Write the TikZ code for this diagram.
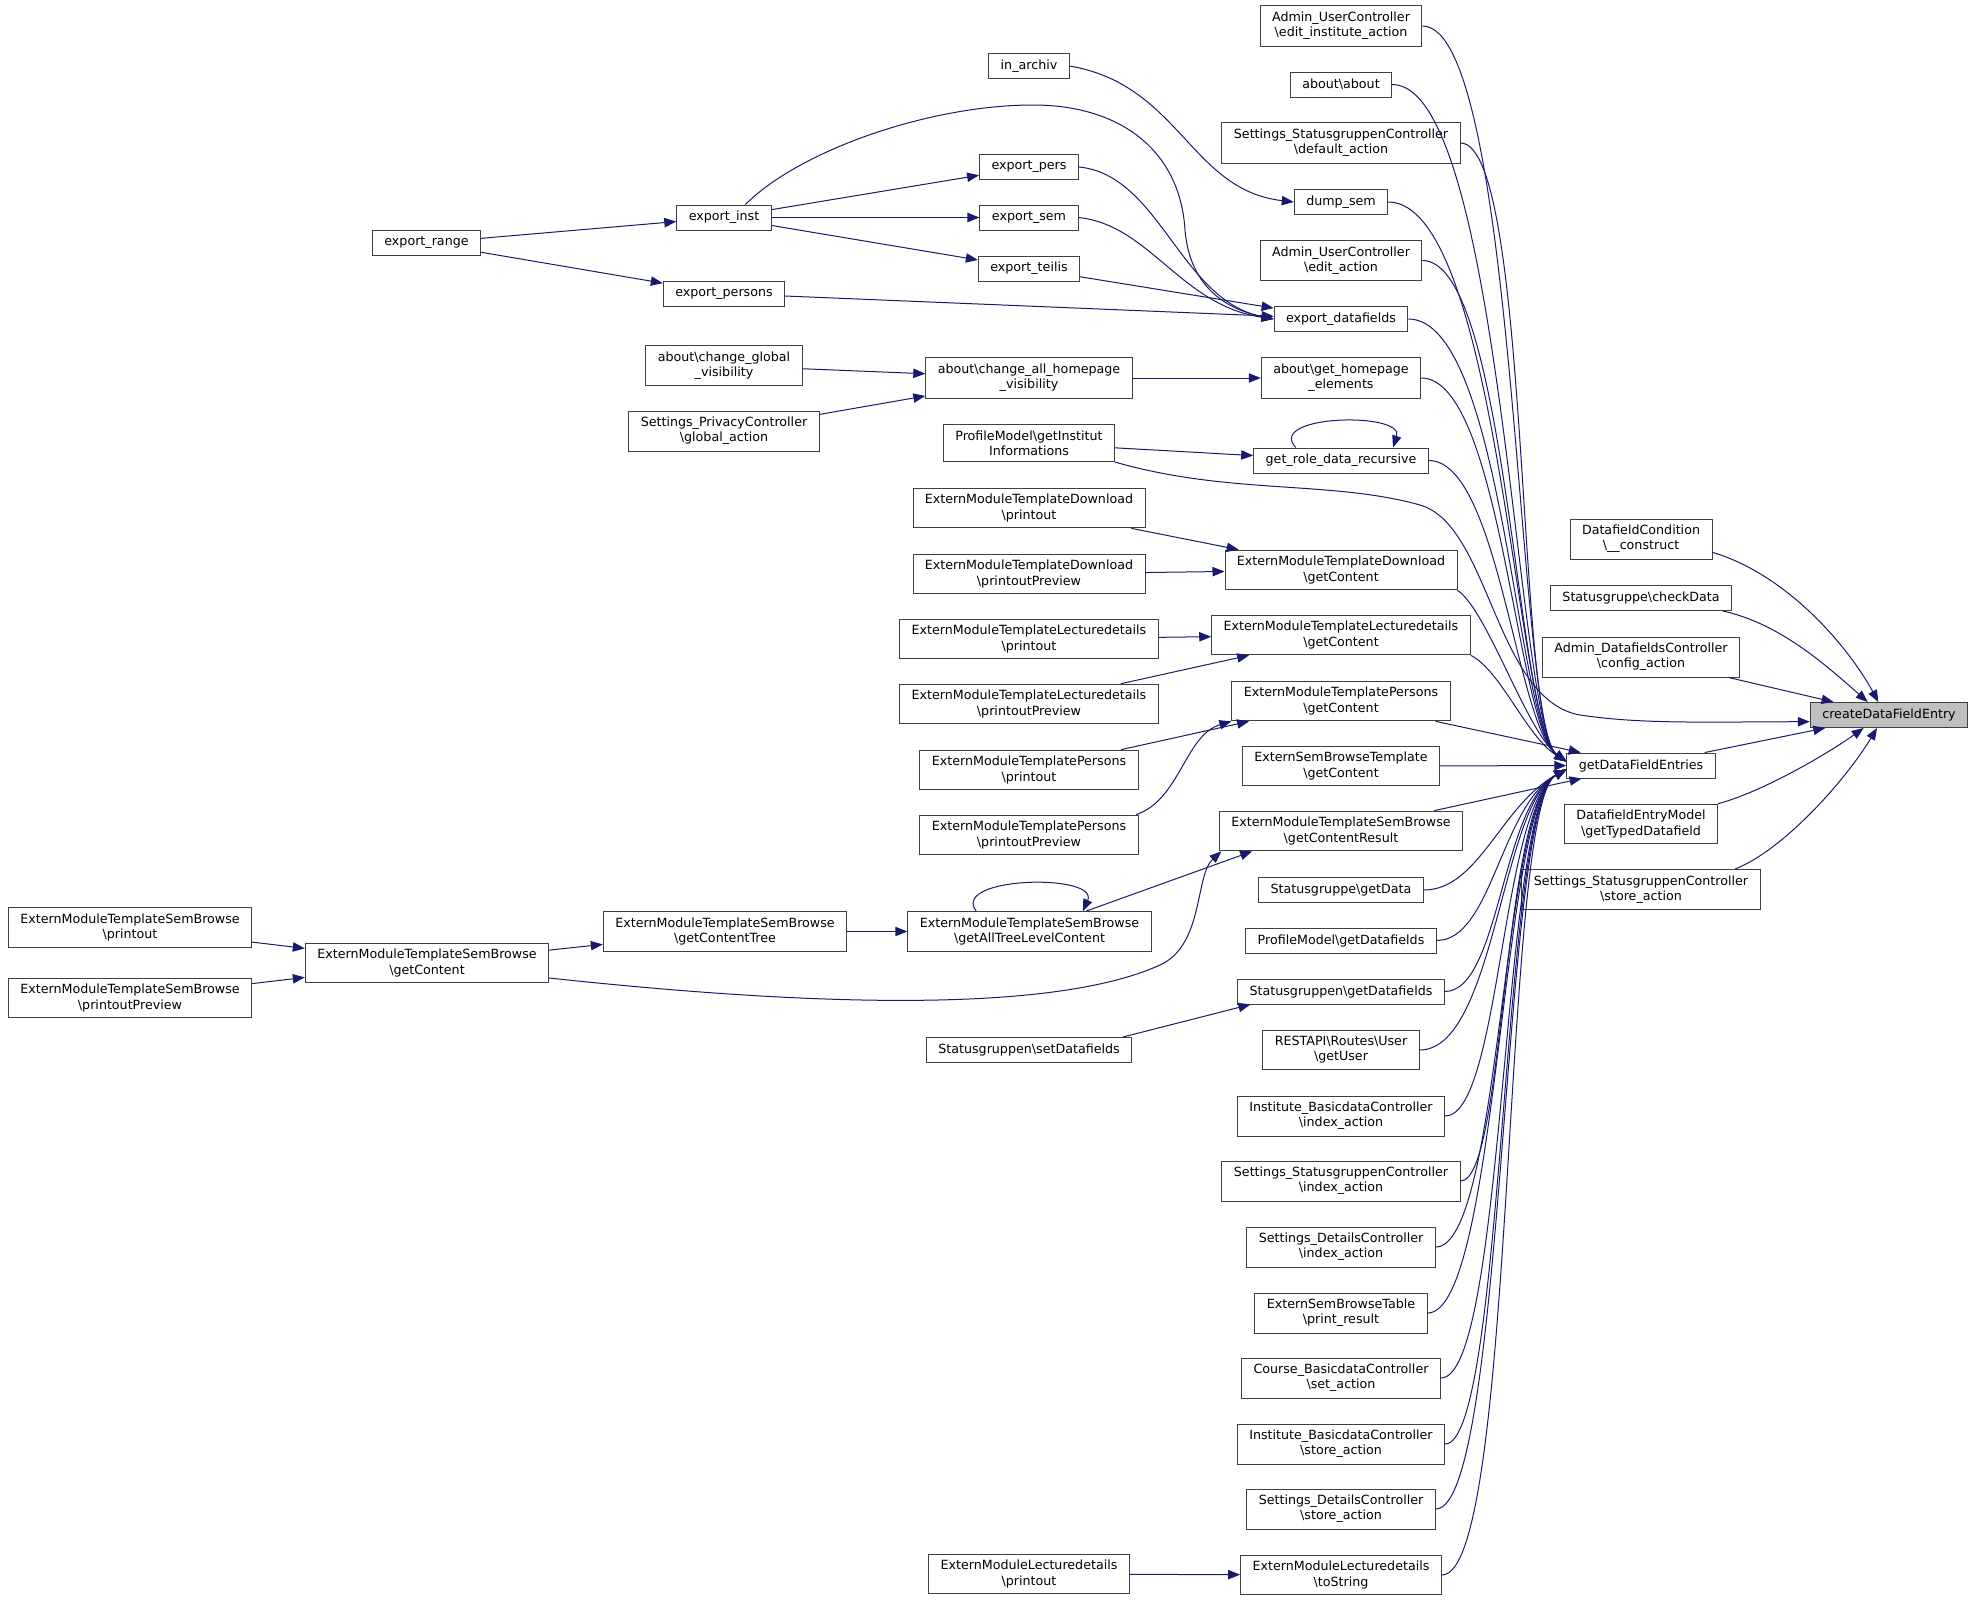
\documentclass[tikz,border=0pt]{standalone}
\usepackage{fontspec}
\setmainfont{DejaVu Sans}
\usetikzlibrary{arrows.meta}
\definecolor{edgeblue}{HTML}{191970}
\definecolor{boxline}{HTML}{404040}
\definecolor{rootfill}{HTML}{BFBFBF}
\newcommand{\bsl}{\textbackslash}
\begin{document}
\begin{tikzpicture}[x=0.75pt, y=-0.75pt,
    fn/.style={draw=boxline, line width=0.7pt, fill=white, inner xsep=9pt, inner ysep=4.6pt,
      minimum height=18.75pt, align=center, font=\fontsize{9.5}{11.4}\selectfont},
    root/.style={fn, fill=rootfill},
    call/.style={draw=edgeblue, line width=0.75pt, -{Triangle[length=9pt,width=7pt]}}]
    \useasboundingbox (0,0) rectangle (1973,1599);

    \node[root] (cde) at (1889,715) {createDataFieldEntry};
    \node[fn] (gde) at (1641,765.5) {getDataFieldEntries};
    \node[fn] (dfc) at (1641,539) {DatafieldCondition\\\bsl\_\_construct};
    \node[fn] (sgcd) at (1641,598) {Statusgruppe\bsl checkData};
    \node[fn] (adcc) at (1641,657) {Admin\_DatafieldsController\\\bsl config\_action};
    \node[fn] (dftd) at (1641,824) {DatafieldEntryModel\\\bsl getTypedDatafield};
    \node[fn] (ssstore) at (1641,889.5) {Settings\_StatusgruppenController\\\bsl store\_action};

    \node[fn] (auedinst) at (1341,26) {Admin\_UserController\\\bsl edit\_institute\_action};
    \node[fn] (about) at (1341,84.5) {about\bsl about};
    \node[fn] (ssdef) at (1341,143) {Settings\_StatusgruppenController\\\bsl default\_action};
    \node[fn] (dumpsem) at (1341,202) {dump\_sem};
    \node[fn] (aued) at (1341,260.5) {Admin\_UserController\\\bsl edit\_action};
    \node[fn] (expdf) at (1341,319) {export\_datafields};
    \node[fn] (ghe) at (1341,378) {about\bsl get\_homepage\\\_elements};
    \node[fn] (grdr) at (1341,460.5) {get\_role\_data\_recursive};
    \node[fn] (emtdgc) at (1341,570) {ExternModuleTemplateDownload\\\bsl getContent};
    \node[fn] (emtlgc) at (1341,635) {ExternModuleTemplateLecturedetails\\\bsl getContent};
    \node[fn] (emtpgc) at (1341,701) {ExternModuleTemplatePersons\\\bsl getContent};
    \node[fn] (esbtgc) at (1341,766) {ExternSemBrowseTemplate\\\bsl getContent};
    \node[fn] (emtsgcr) at (1341,831) {ExternModuleTemplateSemBrowse\\\bsl getContentResult};
    \node[fn] (sgget) at (1341,890) {Statusgruppe\bsl getData};
    \node[fn] (pmgdf) at (1341,940.5) {ProfileModel\bsl getDatafields};
    \node[fn] (sggdf) at (1341,991.5) {Statusgruppen\bsl getDatafields};
    \node[fn] (restuser) at (1341,1050) {RESTAPI\bsl Routes\bsl User\\\bsl getUser};
    \node[fn] (ibdidx) at (1341,1116) {Institute\_BasicdataController\\\bsl index\_action};
    \node[fn] (ssgidx) at (1341,1181) {Settings\_StatusgruppenController\\\bsl index\_action};
    \node[fn] (sdcidx) at (1341,1247) {Settings\_DetailsController\\\bsl index\_action};
    \node[fn] (esbtpr) at (1341,1313) {ExternSemBrowseTable\\\bsl print\_result};
    \node[fn] (cbdset) at (1341,1378) {Course\_BasicdataController\\\bsl set\_action};
    \node[fn] (ibdstore) at (1341,1444) {Institute\_BasicdataController\\\bsl store\_action};
    \node[fn] (sdcstore) at (1341,1509) {Settings\_DetailsController\\\bsl store\_action};
    \node[fn] (emldstr) at (1341,1575) {ExternModuleLecturedetails\\\bsl toString};

    \node[fn] (inarchiv) at (1029,66) {in\_archiv};
    \node[fn] (exppers) at (1029,167) {export\_pers};
    \node[fn] (expsem) at (1029,217.5) {export\_sem};
    \node[fn] (expteilis) at (1029,268.5) {export\_teilis};
    \node[fn] (cahv) at (1029,378) {about\bsl change\_all\_homepage\\\_visibility};
    \node[fn] (pmgii) at (1029,443) {ProfileModel\bsl getInstitut\\Informations};
    \node[fn] (emtdpr) at (1029,508) {ExternModuleTemplateDownload\\\bsl printout};
    \node[fn] (emtdpp) at (1029,574) {ExternModuleTemplateDownload\\\bsl printoutPreview};
    \node[fn] (emtlpr) at (1029,639) {ExternModuleTemplateLecturedetails\\\bsl printout};
    \node[fn] (emtlpp) at (1029,704) {ExternModuleTemplateLecturedetails\\\bsl printoutPreview};
    \node[fn] (emtppr) at (1029,770) {ExternModuleTemplatePersons\\\bsl printout};
    \node[fn] (emtppp) at (1029,835) {ExternModuleTemplatePersons\\\bsl printoutPreview};
    \node[fn] (emtsgat) at (1029.5,931.5) {ExternModuleTemplateSemBrowse\\\bsl getAllTreeLevelContent};
    \node[fn] (sgsdf) at (1029,1050) {Statusgruppen\bsl setDatafields};
    \node[fn] (emldpr) at (1029,1574) {ExternModuleLecturedetails\\\bsl printout};

    \node[fn] (expinst) at (724,217.5) {export\_inst};
    \node[fn] (exppersons) at (724,293.5) {export\_persons};
    \node[fn] (acgv) at (724,365.5) {about\bsl change\_global\\\_visibility};
    \node[fn] (spcga) at (724,431) {Settings\_PrivacyController\\\bsl global\_action};
    \node[fn] (emtsgct) at (725,931.5) {ExternModuleTemplateSemBrowse\\\bsl getContentTree};

    \node[fn] (exprange) at (426.5,243) {export\_range};
    \node[fn] (emtsgc) at (427,963) {ExternModuleTemplateSemBrowse\\\bsl getContent};

    \node[fn] (emtspr) at (130,927.5) {ExternModuleTemplateSemBrowse\\\bsl printout};
    \node[fn] (emtspp) at (130,998) {ExternModuleTemplateSemBrowse\\\bsl printoutPreview};

    \foreach \a/\b in {exprange/expinst, exprange/exppersons, expinst/exppers, expinst/expsem,
        expinst/expteilis, expteilis/expdf, exppersons/expdf, acgv/cahv, spcga/cahv, cahv/ghe,
        pmgii/grdr, emtdpr/emtdgc, emtdpp/emtdgc, emtlpr/emtlgc, emtlpp/emtlgc, emtppr/emtpgc,
        emtsgct/emtsgat, emtsgc/emtsgct, emtspr/emtsgc, emtspp/emtsgc, emldpr/emldstr,
        emtpgc/gde, esbtgc/gde, emtsgcr/gde, gde/cde, adcc/cde}
        \draw[call] (\a) -- (\b);

    \foreach \n/\c in {auedinst/95, about/110, ssdef/70, dumpsem/110, aued/85, expdf/95, ghe/80, grdr/70}
        \draw[call] (\n.east) .. controls +(\c,0) and +(-50,-35) .. ([yshift=3pt]gde.west);
    \draw[call] (emtdgc.south east) .. controls +(30,20) and +(-40,-30) .. ([yshift=3pt]gde.west);
    \draw[call] (emtlgc.south east) .. controls +(30,15) and +(-40,-25) .. ([yshift=3pt]gde.west);
    \foreach \n/\c in {sgget/55, pmgdf/55, sggdf/55, restuser/75, ibdidx/55, ssgidx/45, sdcidx/65,
        esbtpr/70, cbdset/65, ibdstore/60, sdcstore/70, emldstr/75}
        \draw[call] (\n.east) .. controls +(\c,0) and +(-65,35) .. ([yshift=-3pt]gde.west);

    \draw[call] ([yshift=-10pt]dfc.east) .. controls +(77,23) and +(-28,-52) .. ([xshift=-8pt]cde.north);
    \draw[call] ([xshift=-7pt]sgcd.south east) .. controls +(55,12) and +(-45,-40) .. ([xshift=-16pt]cde.north);
    \draw[call] (dftd.north east) .. controls +(45,-12) and +(-35,25) .. ([xshift=-19pt]cde.south);
    \draw[call] ([xshift=-19pt]ssstore.north east) .. controls +(50,-20) and +(-30,50) .. ([xshift=-9pt]cde.south);
    \draw[call] (pmgii.south east) .. controls (1230,495) and (1330,480) .. (1420,505)
        .. controls (1490,525) and (1495,700) .. (1580,715)
        .. controls (1640,724) and (1700,722) .. ([yshift=-5pt]cde.west);

    \draw[call] (inarchiv.east) .. controls (1180,85) and (1190,190) .. (dumpsem.west);
    \draw[call] ([xshift=16pt]expinst.north) .. controls (800,150) and (930,105) .. (1033,105)
        .. controls (1120,105) and (1180,150) .. (1185,230)
        .. controls (1190,290) and (1230,310) .. (expdf.west);
    \draw[call] (exppers.east) .. controls (1160,175) and (1180,300) .. (expdf.west);
    \draw[call] (expsem.east) .. controls (1150,225) and (1180,305) .. (expdf.west);
    \draw[call] ([xshift=-34pt]grdr.north) .. controls +(-30,-33) and +(12,-36) .. ([xshift=39pt]grdr.north);
    \draw[call] ([xshift=-2pt]emtppp.north east) .. controls (1180,800) and (1185,735) .. (emtpgc.south west);
    \draw[call] (emtsgat) -- ([xshift=25pt]emtsgcr.south west);
    \draw[call] ([xshift=-40pt]emtsgat.north) .. controls +(-26,-35) and +(17,-38) .. ([xshift=40pt]emtsgat.north);
    \draw[call] ([yshift=4pt]emtsgc.south east) .. controls (800,1005) and (1050,1015) .. (1160,965)
        .. controls (1204,945) and (1195,875) .. ([xshift=2pt]emtsgcr.south west);
    \draw[call] ([xshift=-7pt]sgsdf.north east) -- ([xshift=10pt]sggdf.south west);
\end{tikzpicture}
\end{document}
